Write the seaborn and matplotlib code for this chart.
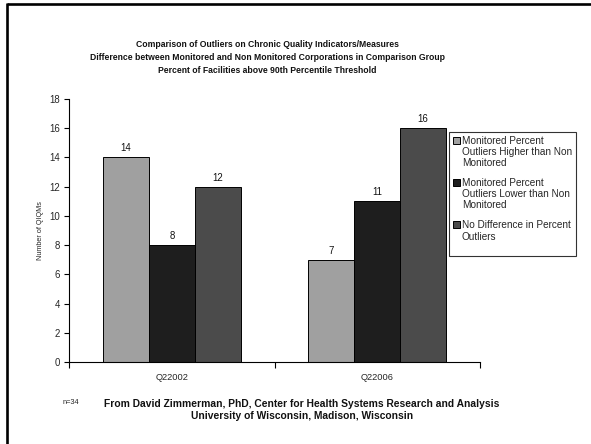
import numpy as np
import pandas as pd
import matplotlib
matplotlib.use("Agg")
import matplotlib.pyplot as plt
from matplotlib.lines import Line2D
from matplotlib.patches import Rectangle
from matplotlib.legend_handler import HandlerPatch
import seaborn as sns

# Data
quarters = ["Q22002", "Q22006"]
series = [
    "Monitored Percent\nOutliers Higher than Non\nMonitored",
    "Monitored Percent\nOutliers Lower than Non\nMonitored",
    "No Difference in Percent\nOutliers\n",
]
higher = [14, 7]
lower = [8, 11]
no_diff = [12, 16]
colors = ["#A0A0A0", "#1E1E1E", "#4B4B4B"]
yticks = [0, 2, 4, 6, 8, 10, 12, 14, 16, 18]

df = pd.DataFrame({
    "quarter": quarters * 3,
    "series": [series[0]] * 2 + [series[1]] * 2 + [series[2]] * 2,
    "count": higher + lower + no_diff,
})

sns.set_theme(style="white")
plt.rcParams["font.family"] = ["Liberation Sans", "DejaVu Sans"]

fig = plt.figure(figsize=(5.91, 4.44), dpi=100)
ax = fig.add_axes([69 / 591, 1 - 362 / 444, (480 - 69) / 591, (362 - 99) / 444])

sns.barplot(data=df, x="quarter", y="count", hue="series", hue_order=series,
            order=quarters, palette=colors, edgecolor="black", linewidth=0.7,
            width=0.67, saturation=1, ax=ax, legend=True)

for cont in ax.containers:
    ax.bar_label(cont, fmt="%d", padding=3, fontsize=6.9, color="#111111")

ax.set_xlim(-0.5, 1.5)
ax.set_ylim(0, 18)
ax.set_yticks(yticks)
ax.set_yticklabels([str(t) for t in yticks], fontsize=6.9)
ax.set_xticks([0, 1])
ax.set_xticklabels(quarters, fontsize=6.7)
ax.xaxis.set_minor_locator(matplotlib.ticker.FixedLocator([-0.5, 0.5, 1.5]))
ax.tick_params(axis="x", which="major", length=0, pad=8)
ax.tick_params(axis="x", which="minor", length=4, width=0.8, color="black", bottom=True)
ax.tick_params(axis="y", length=3.5, width=0.8, color="black", left=True, pad=3)
ax.set_xlabel("")
ax.set_ylabel("Number of QIQMs", fontsize=5.2, labelpad=4)
for side in ["top", "right"]:
    ax.spines[side].set_visible(False)
for side in ["left", "bottom"]:
    ax.spines[side].set_color("black")
    ax.spines[side].set_linewidth(0.8)

# Legend: square keys sit beside the first line of each wrapped label
LEG_FS = 7.2
LEG_LS = 1.15


def top_aligned_key(n_lines):
    def make(legend, orig_handle, xdescent, ydescent, width, height, fontsize):
        shift = (n_lines - 1) / 2 * fontsize * LEG_LS * 1.05
        return Rectangle((-xdescent, -ydescent + shift), width, height)
    return make


handles, labels = ax.get_legend_handles_labels()
ax.legend_.remove()
hmap = {h: HandlerPatch(patch_func=top_aligned_key(lab.count("\n") + 1))
        for h, lab in zip(handles, labels)}
leg = fig.legend(handles, labels, loc="upper left", handler_map=hmap,
                 bbox_to_anchor=(449 / 591, 1 - 132 / 444), bbox_transform=fig.transFigure,
                 frameon=True, fancybox=False, fontsize=LEG_FS, handlelength=0.7,
                 handleheight=0.7, handletextpad=0.25, labelspacing=1.0,
                 borderaxespad=0, borderpad=0.35)
leg.get_frame().set_edgecolor("black")
leg.get_frame().set_linewidth(0.8)
for t in leg.get_texts():
    t.set_linespacing(LEG_LS)

fig.text(267 / 591, 1 - 57.5 / 444,
         "Comparison of Outliers on Chronic Quality Indicators/Measures\n"
         "Difference between Monitored and Non Monitored Corporations in Comparison Group\n"
         "Percent of Facilities above 90th Percentile Threshold",
         ha="center", va="center", fontsize=6.25, fontweight="bold",
         linespacing=1.55, color="#111111")

fig.text(63 / 591, 1 - 402 / 444, "n=34", ha="left", va="center", fontsize=5.3)
fig.text(302 / 591, 1 - 410 / 444,
         "From David Zimmerman, PhD, Center for Health Systems Research and Analysis\n"
         "University of Wisconsin, Madison, Wisconsin",
         ha="center", va="center", fontsize=7.35, fontweight="bold",
         linespacing=1.35, color="#111111")

# Page frame along the top and left edges
fig.add_artist(Line2D([7 / 591, 1], [1 - 4.5 / 444, 1 - 4.5 / 444],
                      transform=fig.transFigure, color="black", linewidth=1.9,
                      solid_capstyle="butt"))
fig.add_artist(Line2D([7 / 591, 7 / 591], [0, 1 - 3.5 / 444],
                      transform=fig.transFigure, color="black", linewidth=1.9,
                      solid_capstyle="butt"))

fig.savefig("out.png", dpi=100)
